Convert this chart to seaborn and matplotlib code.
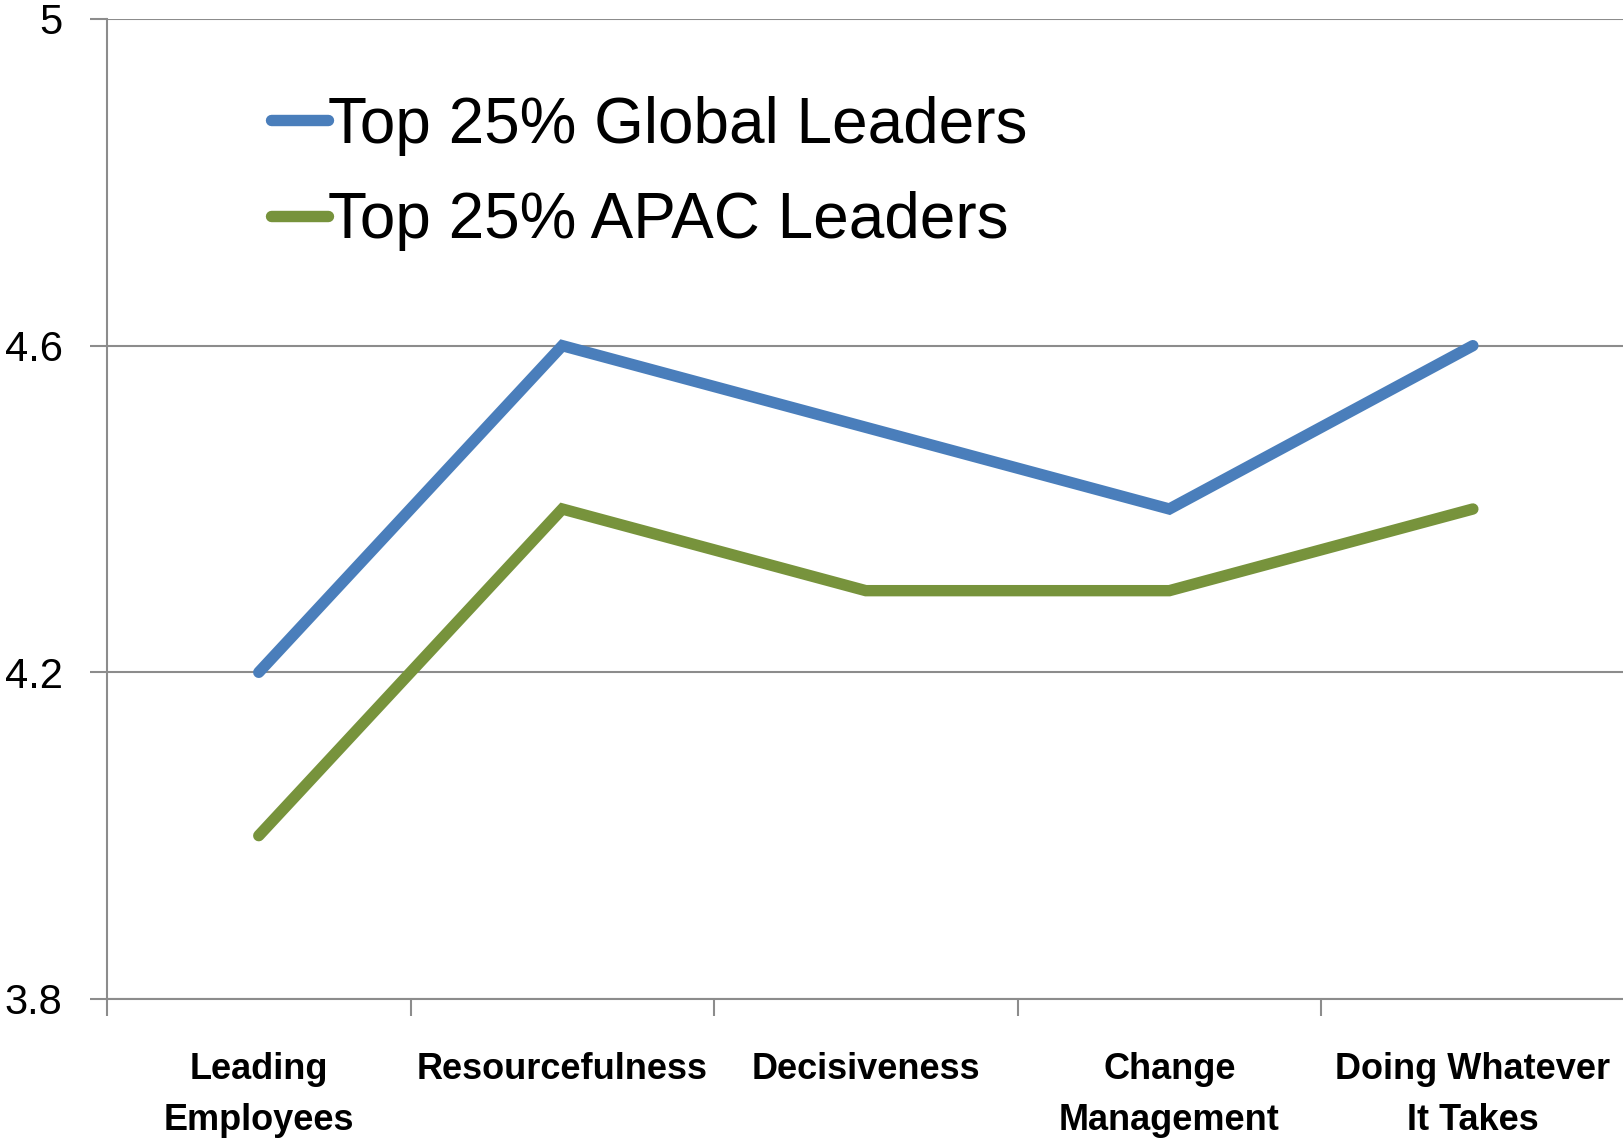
import matplotlib
matplotlib.use("Agg")
import matplotlib.pyplot as plt
import seaborn as sns
import pandas as pd
from matplotlib.ticker import FixedLocator
from matplotlib.lines import Line2D

categories = ["Leading\nEmployees", "Resourcefulness", "Decisiveness", "Change\nManagement", "Doing Whatever\nIt Takes"]
global_vals = [4.2, 4.6, 4.5, 4.4, 4.6]
apac_vals = [4.0, 4.4, 4.3, 4.3, 4.4]
series_names = ["Top 25% Global Leaders", "Top 25% APAC Leaders"]
y_ticks = [3.8, 4.2, 4.6, 5.0]
y_ticklabels = ["3.8", "4.2", "4.6", "5"]

sns.set_theme(style="white")
plt.rcParams['font.family'] = ['Liberation Sans', 'DejaVu Sans']
plt.rcParams['text.color'] = 'black'
plt.rcParams['xtick.color'] = 'black'
plt.rcParams['ytick.color'] = 'black'

rows = []
for i, c in enumerate(categories):
    rows.append({"x": i, "value": global_vals[i], "series": series_names[0]})
    rows.append({"x": i, "value": apac_vals[i], "series": series_names[1]})
df = pd.DataFrame(rows)

fig = plt.figure(figsize=(16.23, 11.39), dpi=100)
ax = fig.add_axes([107/1623, 1 - 999/1139, 1 - 107/1623 + 0.001, (999 - 19)/1139])

palette = {series_names[0]: "#4A7EBB", series_names[1]: "#77933C"}
sns.lineplot(data=df, x="x", y="value", hue="series", palette=palette, linewidth=8.2,
             ax=ax, solid_capstyle="round", solid_joinstyle="miter", legend=False, sort=False)

ax.set_xlim(-0.5, 4.5)
ax.set_ylim(3.8, 5.0)
ax.set_yticks(y_ticks)
ax.set_yticklabels(y_ticklabels, fontsize=30, color="black",
                   family=['Liberation Sans Narrow', 'Liberation Sans', 'DejaVu Sans'])
ax.yaxis.grid(True, color="#8c8c8c", linewidth=1.5)
ax.set_axisbelow(True)

ax.set_xticks(range(len(categories)))
ax.set_xticklabels(categories, fontsize=26, fontweight="bold", color="black",
                   family=['Liberation Sans Narrow', 'Liberation Sans', 'DejaVu Sans'],
                   linespacing=1.6)
ax.tick_params(axis="x", which="major", length=0, pad=38)
ax.xaxis.set_minor_locator(FixedLocator([-0.5, 0.5, 1.5, 2.5, 3.5, 4.5]))
ax.tick_params(axis="x", which="minor", length=12, width=1.5, color="#8c8c8c", bottom=True)
ax.tick_params(axis="y", which="major", length=12, width=1.5, color="#8c8c8c", left=True, pad=20)
ax.set_xlabel("")
ax.set_ylabel("")

for s in ["top", "right"]:
    ax.spines[s].set_visible(False)
for s in ["left", "bottom"]:
    ax.spines[s].set_color("#8c8c8c")
    ax.spines[s].set_linewidth(1.5)

handles = [Line2D([0], [0], color=palette[n], linewidth=8.2, solid_capstyle="round") for n in series_names]
leg = ax.legend(handles, series_names, loc="upper left", bbox_to_anchor=(0.091, 0.948),
                fontsize=46, frameon=False, handlelength=0.9, handletextpad=0.0,
                labelspacing=0.56, borderaxespad=0, labelcolor="black")

fig.savefig("out.png", dpi=100)
